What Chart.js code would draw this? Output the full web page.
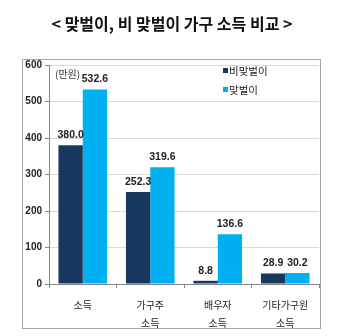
<!DOCTYPE html>
<html>
<head>
<meta charset="utf-8">
<script src="https://cdn.jsdelivr.net/npm/chart.js@4"></script>
<style>
  html, body { margin: 0; padding: 0; background: #fff; }
  #wrap { width: 345px; height: 336px; }
</style>
</head>
<body>
<div id="wrap"><canvas id="c" width="345" height="336"></canvas></div>
<script>
// chart data
const categories = [['소득'], ['가구주', '소득'], ['배우자', '소득'], ['기타가구원', '소득']];
const seriesNames = ['비맞벌이', '맞벌이'];
const nonDual = [380.0, 252.3, 8.8, 28.9];
const dual = [532.6, 319.6, 136.6, 30.2];
const yTicks = [0, 100, 200, 300, 400, 500, 600];
const titleText = '< 맞벌이, 비 맞벌이 가구 소득 비교 >';
const unitText = '(만원)';

const colors = ['#17375E', '#00B0F0'];
const numFont = '"Liberation Sans", "Noto Sans CJK KR", sans-serif';
const krFont = '"Noto Sans CJK KR", sans-serif';

// draws title, frame, unit, legend and value labels
const extras = {
  id: 'extras',
  afterDraw(chart) {
    const ctx = chart.ctx;
    ctx.save();

    // title
    ctx.fillStyle = '#111';
    ctx.font = 'bold 16px ' + krFont;
    ctx.textAlign = 'center';
    ctx.textBaseline = 'middle';
    ctx.fillText(titleText, 172, 24);

    // frame around the chart
    ctx.strokeStyle = '#a6a6a6';
    ctx.lineWidth = 1;
    ctx.strokeRect(22.5, 59.5, 298, 269);

    // unit
    ctx.fillStyle = '#333';
    ctx.font = '10px ' + krFont;
    ctx.textAlign = 'left';
    ctx.fillText(unitText, 55, 74);

    // legend
    ctx.font = '10.5px ' + krFont;
    seriesNames.forEach((name, i) => {
      const y = 71 + i * 19;
      ctx.fillStyle = colors[i];
      ctx.fillRect(223, y - 3, 5, 5);
      ctx.fillStyle = '#222';
      ctx.fillText(name, 229, y);
    });

    // value labels
    ctx.font = 'bold 10.5px ' + numFont;
    ctx.textAlign = 'center';
    ctx.fillStyle = '#222';
    chart.data.datasets.forEach((ds, di) => {
      const meta = chart.getDatasetMeta(di);
      meta.data.forEach((bar, i) => {
        ctx.fillText(ds.data[i].toFixed(1), bar.x, bar.y - 10);
      });
    });

    ctx.restore();
  }
};

new Chart(document.getElementById('c'), {
  type: 'bar',
  data: {
    labels: categories,
    datasets: [
      { label: seriesNames[0], data: nonDual, backgroundColor: colors[0] },
      { label: seriesNames[1], data: dual, backgroundColor: colors[1] }
    ]
  },
  options: {
    responsive: false,
    animation: false,
    layout: { padding: { left: 22, right: 26, top: 65, bottom: 8 } },
    plugins: {
      legend: { display: false },
      title: { display: false },
      tooltip: { enabled: false }
    },
    datasets: { bar: { categoryPercentage: 0.72, barPercentage: 1.0 } },
    scales: {
      x: {
        grid: { drawOnChartArea: false, drawTicks: true, tickLength: 4, color: '#868686' },
        border: { color: '#868686' },
        ticks: {
          color: '#222',
          padding: 8,
          maxRotation: 0,
          autoSkip: false,
          font: { family: krFont, size: 10, lineHeight: 1.8 }
        },
        afterFit(s) { s.height = 44; }
      },
      y: {
        min: 0,
        max: 600,
        afterBuildTicks(s) { s.ticks = yTicks.map(v => ({ value: v })); },
        grid: { color: '#d9d9d9', tickLength: 4, tickColor: '#868686' },
        border: { color: '#868686' },
        ticks: {
          color: '#222',
          padding: 3,
          font: { family: numFont, size: 10, weight: 'bold' }
        },
        afterFit(s) { s.width = 27; }
      }
    }
  },
  plugins: [extras]
});
</script>
</body>
</html>
